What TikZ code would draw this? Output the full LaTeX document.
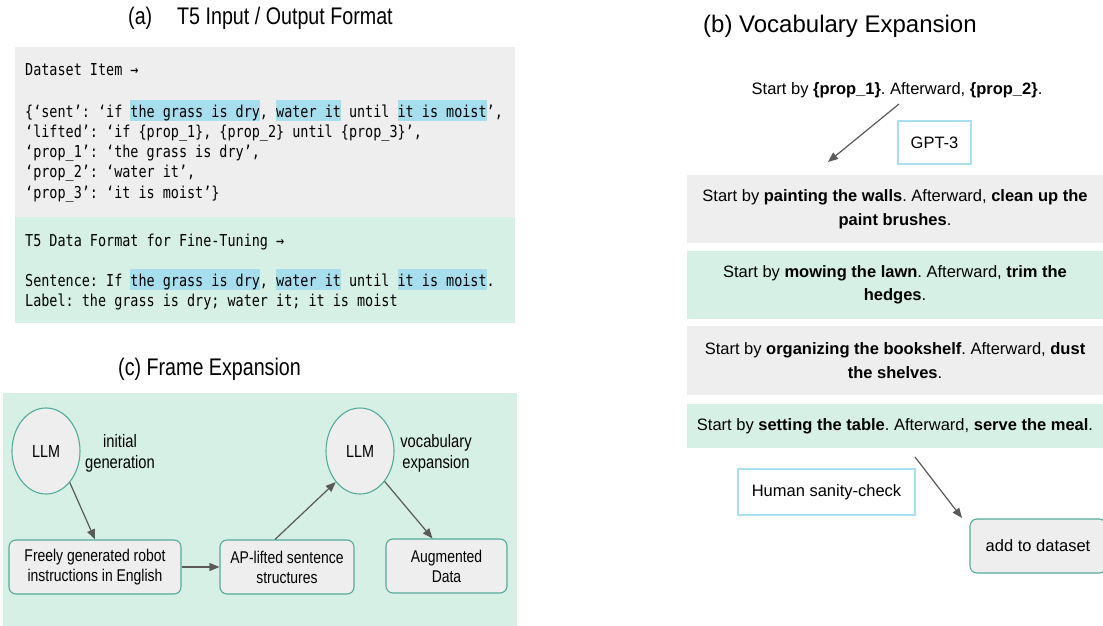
\documentclass[tikz,border=0pt]{standalone}
\usepackage{fontspec}
\setmainfont{Liberation Sans}
\newfontfamily\condf{Liberation Sans}[FakeStretch=0.82]
\newfontfamily\monof{DejaVu Sans Mono}[FakeStretch=0.82]
\usetikzlibrary{arrows.meta,calc,shapes.geometric}
\frenchspacing
\definecolor{boxgray}{HTML}{EEEEEE}
\definecolor{boxgreen}{HTML}{D6F0E6}
\definecolor{hlblue}{HTML}{A7DEEE}
\definecolor{tealline}{HTML}{55AA9A}
\definecolor{gptborder}{HTML}{A9DFEE}
\definecolor{arrowgray}{HTML}{5A5A5A}
\newcommand\hl[1]{{\setlength\fboxsep{0pt}\colorbox{hlblue}{\rule[-4pt]{0pt}{21pt}#1}}}
\tikzset{
  mono/.style={anchor=base west, inner sep=0pt, font=\monof\fontsize{16.4}{20.3}\selectfont\frenchspacing},
  condtitle/.style={anchor=base west, inner sep=0pt, font=\condf\fontsize{24}{28}\selectfont},
  condtext/.style={inner sep=0pt, align=center, font=\condf\fontsize{17}{20}\selectfont},
  condlabel/.style={inner sep=0pt, align=center, font=\condf\fontsize{18}{21}\selectfont},
  btext/.style={inner sep=0pt, align=center, font=\fontsize{16.5}{23.5}\selectfont\frenchspacing},
  roundbox/.style={draw=tealline, line width=1.1pt, fill=boxgray, rounded corners=7pt, inner sep=0pt},
  llmnode/.style={ellipse, draw=tealline, line width=1.1pt, fill=boxgray, inner sep=0pt, minimum width=68pt, minimum height=86pt, font=\condf\fontsize{17.5}{20}\selectfont},
  bgbox/.style={inner sep=0pt, anchor=north west},
  outlinebox/.style={draw=gptborder, line width=1.3pt, fill=white, inner sep=0pt, font=\fontsize{16.5}{20}\selectfont},
  arr/.style={draw=arrowgray, line width=1.2pt, -{Triangle[length=10pt,width=8pt]}, fill=arrowgray}
}
\begin{document}
\begin{tikzpicture}[x=1pt,y=-1pt]
\useasboundingbox (0,0) rectangle (1103,626);
\clip (0,0) rectangle (1103,626);

% ---------------- (a) ----------------
\node[condtitle] (ta) at (128,25) {(a)};
\node[condtitle] (tat) at (177,25) {T5 Input / Output Format};
\node[bgbox, fill=boxgray, minimum width=500pt, minimum height=170pt] (agray) at (15,47) {};
\node[bgbox, fill=boxgreen, minimum width=500pt, minimum height=106pt] (agreen) at (15,217) {};

\node[mono] (di) at (25,76) {Dataset Item →};
\node[mono] (l1) at (25,117) {\{‘sent’: ‘if \hl{the grass is dry}, \hl{water it} until \hl{it is moist}’,};
\node[mono] (l2) at (25,137.3) {‘lifted’: ‘if \{prop\_1\}, \{prop\_2\} until \{prop\_3\}’,};
\node[mono] (l3) at (25,157.6) {‘prop\_1’: ‘the grass is dry’,};
\node[mono] (l4) at (25,177.9) {‘prop\_2’: ‘water it’,};
\node[mono] (l5) at (25,198.2) {‘prop\_3’: ‘it is moist’\}};

\node[mono] (tf) at (25,246) {T5 Data Format for Fine-Tuning →};
\node[mono] (sn) at (25,286) {Sentence: If \hl{the grass is dry}, \hl{water it} until \hl{it is moist}.};
\node[mono] (lb) at (25,306.3) {Label: the grass is dry; water it; it is moist};

% ---------------- (c) ----------------
\node[condtitle] (tc) at (118,375) {(c) Frame Expansion};
\node[bgbox, fill=boxgreen, minimum width=514pt, minimum height=240pt] (cgreen) at (3,393) {};

\node[llmnode] (llm1) at (46,451) {LLM};
\node[llmnode] (llm2) at (360,451) {LLM};
\node[condlabel] (ig) at (120,453) {initial\\generation};
\node[condlabel] (ve) at (436,453) {vocabulary\\expansion};

\node[roundbox, minimum width=172pt, minimum height=54pt] (fb) at (95,567) {};
\node[condtext] (fbt) at (95,567) {Freely generated robot\\instructions in English};
\node[roundbox, minimum width=134pt, minimum height=54pt] (ap) at (287,567) {};
\node[condtext] (apt) at (287,567) {AP-lifted sentence\\structures};
\node[roundbox, minimum width=121pt, minimum height=54pt] (ad) at (446.5,566) {};
\node[condtext] (adt) at (446.5,566) {Augmented\\Data};

\draw[arr] (llm1.-53) -- (fb.north);
\draw[arr] (fb.east) -- (ap.west);
\draw[arr] ($(ap.north)+(-12,0)$) -- (llm2.232);
\draw[arr] (llm2.-51) -- ($(ad.north)+(-14,0)$);

% ---------------- (b) ----------------
\node[anchor=base west, inner sep=0pt, font=\fontsize{24}{28}\selectfont] (tb) at (703,33) {(b) Vocabulary Expansion};
\node[btext, anchor=base] (prompt) at (897,95) {Start by \textbf{\{prop\_1\}}. Afterward, \textbf{\{prop\_2\}}.};

\node[outlinebox, minimum width=73pt, minimum height=43pt] (gpt) at (934.5,142.5) {GPT-3};
\coordinate (pa) at (899,104);
\coordinate (pb) at (828,162);
\draw[arr] (pa) -- (pb);

\node[btext, fill=boxgray, minimum width=416pt, minimum height=68pt] (s1) at (895,209)
  {Start by \textbf{painting the walls}. Afterward, \textbf{clean up the}\\\textbf{paint brushes}.};
\node[btext, fill=boxgreen, minimum width=416pt, minimum height=68pt] (s2) at (895,285)
  {Start by \textbf{mowing the lawn}. Afterward, \textbf{trim the}\\\textbf{hedges}.};
\node[btext, fill=boxgray, minimum width=416pt, minimum height=69pt] (s3) at (895,360.5)
  {Start by \textbf{organizing the bookshelf}. Afterward, \textbf{dust}\\\textbf{the shelves}.};
\node[btext, fill=boxgreen, minimum width=416pt, minimum height=44pt] (s4) at (895,426)
  {Start by \textbf{setting the table}. Afterward, \textbf{serve the meal}.};

\node[outlinebox, minimum width=177pt, minimum height=46pt] (hs) at (826.5,492) {Human sanity-check};
\node[roundbox, minimum width=136pt, minimum height=54pt, font=\fontsize{16.5}{20}\selectfont] (add) at (1038,546) {add to dataset};
\coordinate (ha) at (915,457);
\coordinate (hb) at (962,518);
\draw[arr] (ha) -- (hb);
\end{tikzpicture}
\end{document}
